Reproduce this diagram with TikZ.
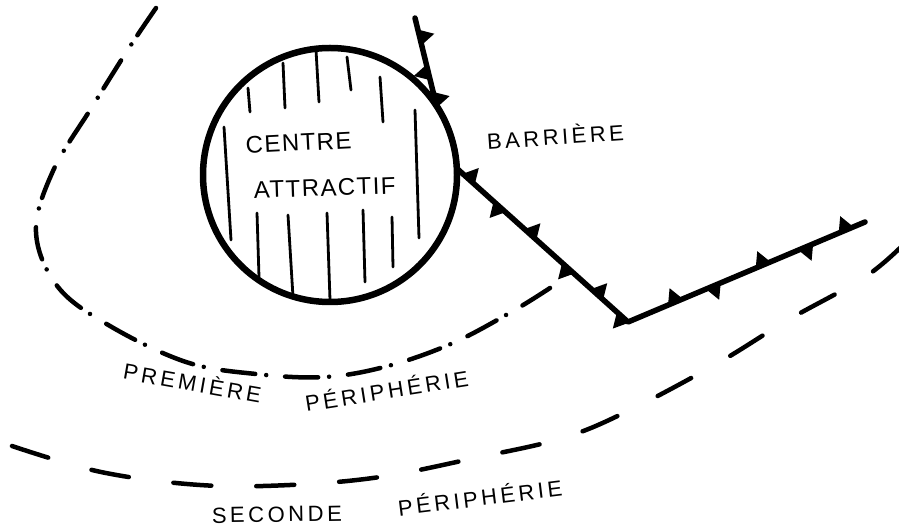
\documentclass[tikz,border=0pt]{standalone}
\usepackage{fontspec}
\setmainfont{Liberation Sans}
\newfontfamily\handA[LetterSpace=6]{Liberation Sans}
\newfontfamily\handB[LetterSpace=16]{Liberation Sans}
\usetikzlibrary{calc}
\newcommand\bartooth[4]{%
  \coordinate (tm) at ($(#1)!#3!(#2)$);
  \fill ($(tm)!8pt!(#1)$) -- ($(tm)!15pt!#4:(#2)$) -- ($(tm)!8pt!(#2)$) -- cycle;
}
\begin{document}
\begin{tikzpicture}[x=1pt,y=-1pt,
  circ/.style={line width=6.5pt},
  hatch/.style={line width=2.8pt, line cap=round},
  barrier/.style={line width=5.5pt, line cap=round, line join=round},
  periA/.style={line width=4.5pt, line cap=round, dash pattern=on 33pt off 11pt on 0pt off 19pt},
  periB/.style={line width=4.5pt, line cap=round, dash pattern=on 38pt off 45pt},
  lbl/.style={inner sep=0pt, anchor=base, font=\handB\fontsize{22}{26}\selectfont},
  lblbig/.style={inner sep=0pt, anchor=base, font=\handA\fontsize{24}{28}\selectfont}]
\useasboundingbox (0,0) rectangle (899,526);
\fill[white] (0,0) rectangle (899,526);

% attractive centre
\coordinate (c) at (330,175);
\draw[circ] (c) circle[radius=127pt];
\foreach \xa/\ya/\xb/\yb in {248/88/250/112, 283/63/285/108, 316/50/319/102, 347/57/351/90, 380/77/383/122,
  224/127/231/240, 415/110/419/238,
  257/213/259/277, 288/215/293/297, 327/213/330/300, 363/210/365/282, 392/217/393/267}
  \draw[hatch] (\xa,\ya) -- (\xb,\yb);

% barrier
\coordinate (b0) at (415,18);
\coordinate (b1) at (436.5,105.8);
\coordinate (b2) at (456.8,168.4);
\coordinate (b3) at (628,322);
\coordinate (b4) at (865,222);
\draw[barrier] (b0) -- (b1) .. controls (448.7,124.5) and (455.6,146.1) .. (b2) -- (b3) -- (b4);
\foreach \t/\s in {0.22/90, 0.62/-90, 0.93/90} {\bartooth{b0}{b1}{\t}{\s}}
\foreach \t/\s in {0.07/90, 0.25/-90, 0.43/90, 0.65/-90, 0.82/90, 0.97/-90} {\bartooth{b2}{b3}{\t}{\s}}
\foreach \t/\s in {0.20/90, 0.36/-90, 0.57/90, 0.75/-90, 0.92/90} {\bartooth{b3}{b4}{\t}{\s}}

% first periphery
\draw[periA] plot[smooth, tension=0.6] coordinates {(156,8) (129,48) (92,107) (53,171) (36,232) (58,287) (110,326) (186,362) (256,374) (325,377) (388,366) (453,343) (513,311) (550,288)};

% second periphery
\draw[periB] plot[smooth, tension=0.6] coordinates {(12,446) (101,472) (200,485) (290,485) (380,477) (475,458) (563,438) (630,410) (718,363) (788,320) (865,277) (905,243)};

% labels
\node[lblbig, rotate=3] (centre) at (299,151) {CENTRE};
\node[lblbig, rotate=2] (attractif) at (325,196) {ATTRACTIF};
\node[lbl, rotate=4] (barriere) at (556,145) {BARRIÈRE};
\node[lbl, rotate=-10] (premiere) at (191,391) {PREMIÈRE};
\node[lbl, rotate=9] (periA) at (388,399) {PÉRIPHÉRIE};
\node[lbl, rotate=1] (seconde) at (277,522) {SECONDE};
\node[lbl, rotate=7] (periB) at (481,506) {PÉRIPHÉRIE};
\end{tikzpicture}
\end{document}
